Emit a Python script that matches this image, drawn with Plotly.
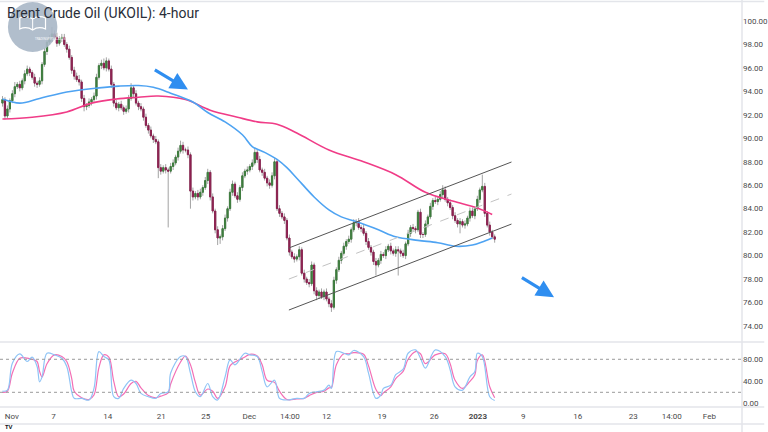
import plotly.graph_objects as go

# ---------------- data ----------------
first_open = 93.0
closes = [
    93.3, 91.9, 92.5, 93.2, 93.8, 94.4, 94.6, 94.3, 94.9, 95.5,
    95.9, 95.6, 95.2, 94.7, 94.6, 94.9, 96.3, 97.4, 98.2, 98.5,
    98.9, 98.6, 98.1, 98.5, 98.6, 98.0, 97.6, 96.9, 95.8, 95.3,
    95.0, 94.8, 93.4, 92.7, 92.8, 93.1, 93.3, 93.6, 95.2, 96.2,
    96.4, 96.0, 96.6, 95.9, 94.6, 93.0, 92.6, 92.9, 92.6, 92.3,
    92.5, 93.4, 94.3, 93.8, 93.0, 92.7, 92.5, 91.8, 91.1, 90.7,
    90.2, 89.9, 89.7, 87.5, 87.2, 87.5, 87.3, 87.2, 87.6, 87.9,
    88.4, 88.9, 89.4, 89.0, 89.0, 88.6, 85.5, 85.0, 85.3, 85.0,
    85.4, 85.8, 86.4, 87.1, 85.0, 83.8, 82.2, 81.5, 81.6, 82.3,
    83.2, 84.0, 85.4, 86.1, 85.1, 84.8, 85.8, 86.8, 87.2, 87.3,
    87.6, 87.9, 88.8, 88.2, 87.3, 87.1, 86.6, 86.2, 86.0, 86.8,
    88.0, 84.0, 83.6, 83.3, 83.0, 81.5, 80.3, 79.9, 79.7, 79.9,
    80.5, 78.5, 78.0, 77.7, 77.6, 79.2, 77.0, 76.6, 76.9, 76.5,
    76.9, 76.3, 75.9, 75.6, 77.9, 78.8, 79.6, 80.2, 80.8, 81.2,
    81.4, 82.2, 82.8, 82.9, 82.4, 82.3, 81.9, 81.2, 80.7, 80.3,
    79.5, 79.2, 79.6, 80.1, 80.0, 80.5, 80.8, 80.4, 80.2, 80.5,
    80.4, 80.2, 80.0, 81.0, 81.9, 82.4, 82.3, 82.2, 83.7, 81.8,
    81.8, 82.7, 83.3, 84.2, 84.7, 84.6, 84.8, 85.2, 85.6, 84.8,
    84.5, 84.1, 83.4, 83.0, 82.7, 82.9, 82.6, 82.7, 83.2, 83.8,
    83.4, 84.0, 84.8, 85.6, 85.9, 83.6, 82.6, 82.0, 81.6, 81.4,
]
# wick lengths in tenths of a dollar
up_wick = [
    3, 2, 3, 2, 3, 4, 2, 3, 2, 3,
    3, 2, 2, 3, 2, 3, 2, 3, 4, 3,
    6, 3, 4, 2, 3, 3, 2, 3, 2, 3,
    3, 4, 2, 3, 2, 3, 2, 3, 3, 2,
    3, 4, 3, 2, 3, 2, 3, 2, 3, 2,
    3, 3, 4, 2, 3, 2, 3, 2, 3, 2,
    3, 2, 3, 2, 3, 2, 3, 2, 3, 3,
    2, 3, 4, 3, 2, 3, 2, 3, 2, 3,
    3, 2, 3, 3, 2, 3, 2, 3, 2, 3,
    3, 2, 3, 3, 2, 3, 2, 3, 2, 3,
    2, 3, 4, 2, 3, 2, 3, 2, 3, 3,
    3, 2, 3, 2, 3, 2, 3, 2, 3, 2,
    3, 2, 3, 2, 3, 3, 2, 3, 2, 3,
    2, 3, 2, 3, 3, 2, 3, 2, 3, 2,
    3, 2, 3, 2, 3, 2, 3, 2, 3, 2,
    2, 3, 2, 3, 2, 3, 2, 3, 2, 3,
    3, 2, 3, 2, 3, 2, 3, 2, 2, 3,
    2, 3, 2, 3, 2, 3, 2, 3, 4, 3,
    2, 3, 2, 3, 2, 3, 2, 3, 2, 3,
    3, 2, 3, 2, 10, 3, 2, 3, 2, 2,
]
low_wick = [
    3, 3, 2, 3, 2, 3, 2, 3, 2, 3,
    2, 3, 2, 3, 3, 2, 3, 2, 3, 2,
    3, 2, 3, 2, 3, 2, 3, 2, 3, 3,
    2, 3, 3, 4, 3, 2, 3, 2, 3, 2,
    3, 2, 3, 2, 3, 3, 2, 3, 2, 3,
    2, 3, 2, 3, 2, 3, 2, 3, 2, 3,
    2, 3, 2, 9, 3, 2, 3, 48, 2, 3,
    2, 3, 2, 3, 2, 3, 15, 3, 2, 3,
    2, 3, 2, 3, 3, 2, 3, 6, 5, 3,
    2, 3, 2, 3, 2, 3, 2, 3, 2, 3,
    2, 3, 2, 3, 2, 3, 2, 3, 3, 2,
    3, 2, 3, 2, 3, 2, 3, 2, 3, 2,
    3, 2, 3, 2, 3, 2, 3, 4, 3, 2,
    3, 2, 3, 4, 2, 3, 2, 3, 2, 3,
    2, 3, 2, 3, 2, 3, 2, 3, 2, 3,
    3, 9, 2, 3, 2, 3, 2, 3, 2, 3,
    21, 3, 2, 3, 2, 3, 2, 3, 2, 3,
    3, 2, 3, 2, 3, 2, 3, 2, 3, 2,
    3, 2, 3, 2, 3, 8, 2, 3, 2, 3,
    2, 3, 2, 3, 2, 3, 2, 3, 2, 3,
]

# moving averages (bar index, price)
ma_fast_x = [0, 7, 15, 26, 39, 47, 55, 61, 68, 77, 83, 90, 97, 101, 106, 111, 115,
             119, 126, 132, 137, 143, 152, 159, 168, 176, 183, 190, 195, 198]
ma_fast_y = [93.35, 93.0, 93.4, 93.95, 94.3, 94.45, 94.5, 94.35, 93.85, 93.1, 92.2,
             91.4, 90.3, 89.3, 88.8, 88.2, 87.5, 86.6, 85.0, 83.9, 83.3, 82.9, 82.2,
             81.6, 81.3, 81.1, 80.8, 80.9, 81.25, 81.5]
ma_slow_x = [0, 12, 26, 36, 46, 55, 63, 74, 84, 95, 103, 111, 119, 132, 146, 159,
             171, 182, 192, 198]
ma_slow_y = [91.65, 91.8, 92.25, 93.0, 93.35, 93.5, 93.6, 93.3, 92.4, 91.8, 91.4,
             91.2, 90.45, 89.0, 88.0, 86.9, 85.4, 84.65, 84.05, 83.5]

# stochastic (bar index, %K, %D)
stoch_x = [0, 2, 4, 7, 10, 12, 14, 15, 16, 18, 21, 24, 26, 28, 29, 32, 35, 37, 39,
           41, 43, 45, 47, 49, 52, 54, 56, 59, 62, 64, 67, 68, 72, 74, 76, 78, 80,
           83, 85, 87, 90, 92, 94, 98, 100, 103, 105, 107, 110, 112, 115, 119, 122,
           124, 127, 130, 132, 133, 135, 138, 140, 142, 146, 148, 151, 153, 154,
           157, 159, 162, 164, 167, 169, 171, 175, 179, 181, 183, 186, 189, 191,
           192, 194, 197, 199]
stoch_k = [22, 24, 73, 90, 76, 84, 67, 39, 48, 91, 88, 82, 67, 21, 9, 9, 6, 27, 94,
           85, 79, 12, 9, 27, 42, 36, 18, 12, 9, 18, 21, 55, 85, 85, 55, 21, 12, 36,
           12, 6, 48, 79, 70, 91, 88, 85, 58, 30, 42, 9, 6, 9, 9, 18, 21, 24, 33, 27,
           94, 91, 88, 96, 85, 55, 9, 15, 27, 33, 52, 62, 91, 97, 82, 64, 97, 85, 61,
           30, 24, 48, 58, 91, 85, 12, 5]
stoch_d = [20, 22, 55, 82, 82, 80, 76, 58, 48, 72, 88, 85, 76, 45, 22, 10, 7, 15, 65,
           88, 84, 40, 12, 17, 36, 40, 28, 14, 10, 13, 19, 35, 75, 86, 70, 38, 15, 26,
           22, 9, 30, 68, 75, 84, 89, 86, 70, 42, 38, 22, 7, 8, 9, 14, 20, 22, 28, 29,
           70, 90, 90, 92, 89, 68, 25, 14, 19, 30, 45, 58, 80, 94, 90, 72, 88, 90, 72,
           42, 27, 40, 52, 78, 88, 30, 10]

# rising channel (bar index, price)
channel_x = [115.8, 205.8]
channel_upper = [80.65, 87.98]
channel_mid = [78.0, 85.25]
channel_lower = [75.36, 82.69]

# arrows (tail -> head, bar index / price)
arrow1 = dict(x0=61, y0=95.9, x1=75, y1=94.15)
arrow2 = dict(x0=209.4, y0=78.2, x1=223, y1=76.45)

tick_pos = [3.8, 20.6, 42.6, 64.2, 82.2, 99.8, 116.2, 131, 153.4, 174.6, 192.2,
            210.6, 232.6, 255, 270.6, 285.8]
tick_text = ["Nov", "7", "14", "21", "25", "Dec", "14:00", "12", "19", "26",
             "<b>2023</b>", "9", "16", "23", "14:00", "Feb"]
price_ticks = list(range(74, 101, 2))
stoch_ticks = [0, 40, 80]

# ---------------- derived ----------------
opens = [first_open] + closes[:-1]
highs = [max(o, c) + u / 10 for o, c, u in zip(opens, closes, up_wick)]
lows = [min(o, c) - w / 10 for o, c, w in zip(opens, closes, low_wick)]
body_hi = [max(o, c) for o, c in zip(opens, closes)]
body_lo = [min(o, c) for o, c in zip(opens, closes)]
idx = list(range(len(closes)))

W, H = 768, 432
PLOT_W, PLOT_H = 750, 407


def px_x(p):
    return p / PLOT_W


def px_y(p):
    return (PLOT_H - p) / PLOT_H


GREEN = "#3e7d3e"
RED = "#8c2150"
WICK = "#a3a3a3"

fig = go.Figure()

fig.add_trace(go.Candlestick(
    x=idx, open=opens, high=highs, low=lows, close=closes,
    increasing=dict(line=dict(color=WICK, width=1), fillcolor=WICK),
    decreasing=dict(line=dict(color=WICK, width=1), fillcolor=WICK),
    whiskerwidth=0, hoverinfo="skip", showlegend=False, xaxis="x", yaxis="y"))
fig.add_trace(go.Candlestick(
    x=idx, open=opens, high=body_hi, low=body_lo, close=closes,
    increasing=dict(line=dict(color=GREEN, width=1), fillcolor=GREEN),
    decreasing=dict(line=dict(color=RED, width=1), fillcolor=RED),
    whiskerwidth=0, hoverinfo="skip", showlegend=False, xaxis="x", yaxis="y"))

fig.add_trace(go.Scatter(x=ma_slow_x, y=ma_slow_y, mode="lines",
                         line=dict(color="#f03c87", width=1.6, shape="spline"),
                         showlegend=False, xaxis="x", yaxis="y"))
fig.add_trace(go.Scatter(x=ma_fast_x, y=ma_fast_y, mode="lines",
                         line=dict(color="#4ea3f2", width=1.6, shape="spline"),
                         showlegend=False, xaxis="x", yaxis="y"))

for ys, dash, col in [(channel_upper, "solid", "#555555"),
                      (channel_lower, "solid", "#555555"),
                      (channel_mid, "dash", "#c2c2c2")]:
    fig.add_trace(go.Scatter(x=channel_x, y=ys, mode="lines",
                             line=dict(color=col, width=1, dash=dash),
                             showlegend=False, xaxis="x", yaxis="y"))

fig.add_trace(go.Scatter(x=stoch_x, y=stoch_d, mode="lines",
                         line=dict(color="#f36fb5", width=1.2, shape="spline"),
                         showlegend=False, xaxis="x", yaxis="y2"))
fig.add_trace(go.Scatter(x=stoch_x, y=stoch_k, mode="lines",
                         line=dict(color="#8fc4f6", width=1.2, shape="spline"),
                         showlegend=False, xaxis="x", yaxis="y2"))

shapes = []
# stochastic bands
for lvl in (20, 80):
    shapes.append(dict(type="line", xref="paper", yref="y2", x0=0, x1=1, y0=lvl, y1=lvl,
                       line=dict(color="#9a9a9a", width=1, dash="3px,3px")))
# separators
sep = dict(color="#e3e5ea", width=1.5)
for yy in (1.5, 342, 407, 424):
    shapes.append(dict(type="line", xref="paper", yref="paper", x0=0, x1=1.03,
                       y0=px_y(yy), y1=px_y(yy), line=sep, layer="above"))
shapes.append(dict(type="line", xref="paper", yref="paper", x0=1, x1=1,
                   y0=px_y(432), y1=px_y(0), line=sep, layer="above"))
# logo circle
shapes.append(dict(type="circle", xref="paper", yref="paper",
                   x0=px_x(8), x1=px_x(58), y0=px_y(52), y1=px_y(2),
                   fillcolor="#a9b7c6", line=dict(width=0), opacity=0.9, layer="above"))
# book icon
bx, by = 33, 23
book = (f"M {px_x(bx-13)},{px_y(by+6)} L {px_x(bx-13)},{px_y(by-5)} "
        f"Q {px_x(bx-6)},{px_y(by-8)} {px_x(bx)},{px_y(by-4)} "
        f"Q {px_x(bx+6)},{px_y(by-8)} {px_x(bx+13)},{px_y(by-5)} "
        f"L {px_x(bx+13)},{px_y(by+6)} "
        f"Q {px_x(bx+6)},{px_y(by+3)} {px_x(bx)},{px_y(by+7)} "
        f"Q {px_x(bx-6)},{px_y(by+3)} {px_x(bx-13)},{px_y(by+6)} Z")
shapes.append(dict(type="path", xref="paper", yref="paper", path=book,
                   fillcolor="rgba(255,255,255,0)", line=dict(color="white", width=1.2),
                   layer="above"))
shapes.append(dict(type="line", xref="paper", yref="paper", x0=px_x(bx), x1=px_x(bx),
                   y0=px_y(by - 4), y1=px_y(by + 7), line=dict(color="white", width=1),
                   layer="above"))

annotations = [
    dict(text="Brent Crude Oil (UKOIL): 4-hour", xref="paper", yref="paper",
         x=px_x(5), y=px_y(14), xanchor="left", yanchor="middle", showarrow=False,
         font=dict(family="Roboto, sans-serif", size=14, color="#2a2e39")),
    dict(text="TRADINGPIPSACADEMY.COM", xref="paper", yref="paper", x=px_x(33),
         y=px_y(35), showarrow=False, font=dict(size=3, color="white")),
    dict(text="<b>TV</b>", xref="paper", yref="paper", x=px_x(3), y=px_y(427),
         xanchor="left", yanchor="middle", showarrow=False,
         font=dict(size=6, color="#131722")),
]
for a in (arrow1, arrow2):
    annotations.append(dict(x=a["x1"], y=a["y1"], ax=a["x0"], ay=a["y0"],
                            xref="x", yref="y", axref="x", ayref="y", text="",
                            showarrow=True, arrowhead=2, arrowsize=1.1, arrowwidth=3.2,
                            arrowcolor="#2f8ef0"))

fig.update_layout(
    width=W, height=H,
    margin=dict(l=0, r=W - PLOT_W, t=0, b=H - PLOT_H),
    paper_bgcolor="white", plot_bgcolor="white",
    showlegend=False,
    xaxis=dict(domain=[0, 1], range=[-1, 299], anchor="y2",
               tickvals=tick_pos, ticktext=tick_text, showgrid=False, zeroline=False,
               showline=False, ticks="", rangeslider=dict(visible=False),
               ticklabelstandoff=3,
               tickfont=dict(size=8, color="#4a4a4a", family="Roboto"), fixedrange=True),
    yaxis=dict(domain=[px_y(341), 1], range=[72.72, 101.79], side="right", anchor="x",
               tickvals=price_ticks, ticktext=[f"{v:.2f}" for v in price_ticks],
               showgrid=False, zeroline=False, showline=False, ticks="",
               tickfont=dict(size=8, color="#4a4a4a", family="Roboto")),
    yaxis2=dict(domain=[0, px_y(343)], range=[-6.7, 109.6], side="right", anchor="x",
                tickvals=stoch_ticks, ticktext=[f"{v:.2f}" for v in stoch_ticks],
                showgrid=False, zeroline=False, showline=False, ticks="",
                tickfont=dict(size=8, color="#4a4a4a", family="Roboto")),
    shapes=shapes,
    annotations=annotations,
)

fig.write_html("out.html")
